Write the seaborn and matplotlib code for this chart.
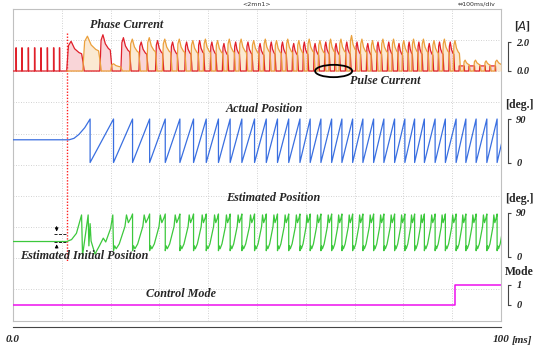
import numpy as np
import pandas as pd
import matplotlib
matplotlib.use("Agg")
import matplotlib.pyplot as plt
import seaborn as sns
from matplotlib.patches import Ellipse

# ─────────────────────────────────────────────
# DATA (read off the scope capture, time in ms)
# ─────────────────────────────────────────────
# short current spikes before start-up (red phase)
spike_t = [0.6, 1.8, 3.1, 4.4, 5.7, 7.0, 8.3, 9.5]
spike_amp = 1.6

# phase current pulses: switch-on times and peak current [A]
red_on = [11.0, 17.8, 22.1, 25.8, 29.2, 32.3, 35.2, 37.9, 40.4, 42.9,
          45.3, 47.8, 50.3, 52.6, 54.9, 57.2, 59.4, 61.6, 63.8, 65.9,
          68.1, 70.2, 72.4, 74.5, 76.7, 78.8, 80.9, 82.9, 85.0, 87.1,
          89.3, 91.4, 93.4, 95.6, 97.7]
red_pk = [2.05, 2.5, 2.3, 2.0, 2.1, 2.0, 2.0, 2.1, 2.0, 1.9,
          2.0, 2.0, 1.9, 2.0, 2.0, 1.9, 2.0, 1.9, 2.0, 1.9,
          2.0, 2.0, 1.9, 2.0, 2.0, 1.9, 2.0, 2.0, 1.9, 2.0,
          2.0, 0.35, 0.35, 0.35, 0.35]
orange_on = [14.3, 20.0, 23.9, 27.4, 30.6, 33.6, 36.4, 39.0, 41.5, 43.9,
             46.3, 48.9, 51.3, 53.6, 55.9, 58.2, 60.3, 62.5, 64.7, 66.8,
             69.0, 71.1, 73.3, 75.4, 77.6, 79.7, 81.7, 83.7, 85.9, 88.0,
             90.2, 92.3, 94.4, 96.6, 98.7]
orange_pk = [2.4, 0.5, 2.2, 2.3, 2.2, 2.2, 2.1, 2.2, 2.1, 2.2,
             2.2, 2.1, 2.2, 2.1, 2.2, 2.1, 2.2, 2.1, 2.2, 2.2,
             2.45, 2.2, 2.1, 2.2, 2.2, 2.1, 2.2, 2.2, 2.1, 2.2,
             2.1, 0.75, 0.75, 0.7, 0.75]

# pulse outline (fraction of pulse length, fraction of peak)
pulse_shape_t = [0.0, 0.1, 0.25, 0.45, 0.7, 0.85, 0.93, 1.0]
pulse_shape_a = [0.0, 0.85, 1.0, 0.75, 0.62, 0.58, 0.3, 0.0]
rect_shape_t = [0.0, 0.03, 0.9, 0.93]
rect_shape_a = [0.0, 1.0, 1.0, 0.0]

# actual position: start-up ramp, then 90 -> 0 wraps
pos_start_t = [0.0, 11.5, 12.5, 13.5, 14.7]
pos_start_v = [47, 47, 50, 58, 72]
wrap_t = [15.8, 20.6, 24.5, 28.0, 31.2, 34.2, 37.0, 39.6, 42.1, 44.5,
          46.9, 49.5, 51.9, 54.2, 56.5, 58.8, 60.9, 63.1, 65.3, 67.4,
          69.6, 71.7, 73.9, 76.0, 78.2, 80.3, 82.3, 84.3, 86.5, 88.6,
          90.8, 92.8, 94.9, 97.1, 99.2, 101.3]

# estimated position: start-up part, then one cycle outline per wrap
est_start_t = [0.0, 11.0, 12.0, 13.0, 14.05, 14.25, 15.4, 15.55, 15.8, 16.0,
               16.8, 17.7, 18.5, 19.0, 20.0, 20.45]
est_start_v = [31, 31, 35, 48, 86, 2, 86, 22, 68, 32,
               5, 22, 38, 30, 58, 86]
est_cycle_p = [0.0, 0.06, 0.14, 0.3, 0.5, 0.6, 0.68, 0.78, 0.92, 1.0]
est_cycle_v = [12, 22, 16, 26, 50, 62, 86, 70, 80, 88]

# control mode
mode_t = [0.0, 90.5, 90.5, 100.0]
mode_v = [0, 0, 1, 1]

start_t = 11.0

# ─────────────────────────────────────────────
# BUILD TRACES
# ─────────────────────────────────────────────
def pulse_train(on, pk, other_on, t_first):
    xs, ys = [t_first], [0.0]
    for s, a in zip(on, pk):
        nxt = [o for o in other_on if o > s]
        e = nxt[0] + 0.3 if nxt else 100.5
        st, sa = (rect_shape_t, rect_shape_a) if a < 0.5 and s > 90 else (pulse_shape_t, pulse_shape_a)
        for f, g in zip(st, sa):
            xs.append(s + f * (e - s))
            ys.append(g * a)
    return xs, ys

red_x, red_y = [0.0], [0.0]
for t in spike_t:
    red_x += [t, t, t + 0.08, t + 0.1]
    red_y += [0.0, spike_amp, spike_amp, 0.0]
rx, ry = pulse_train(red_on, red_pk, orange_on, start_t)
red_x += rx
red_y += ry
org_x, org_y = pulse_train(orange_on, orange_pk, red_on, start_t)

pos_x, pos_y = list(pos_start_t), list(pos_start_v)
for w in wrap_t:
    pos_x += [w, w]
    pos_y += [90, 0]

est_x, est_y = list(est_start_t), list(est_start_v)
for a, b in zip(wrap_t[1:-1], wrap_t[2:]):
    for p, v in zip(est_cycle_p, est_cycle_v):
        est_x.append(a + p * (b - a))
        est_y.append(v)

# ─────────────────────────────────────────────
# FIGURE
# ─────────────────────────────────────────────
sns.set_theme(style="white")
plt.rcParams["font.family"] = ["Liberation Serif", "DejaVu Serif"]

W, H = 534, 347
FL, FR, FT, FB = 13, 501, 9, 320.5   # frame in pixels
fig = plt.figure(figsize=(W / 100, H / 100), dpi=100)
rect = [FL / W, 1 - FB / H, (FR - FL) / W, (FB - FT) / H]


def frac(py):
    return (FB - py) / (FB - FT)


def fit(ax, v0, py0, v1, py1):
    f0, f1 = frac(py0), frac(py1)
    s = (v1 - v0) / (f1 - f0)
    ax.set_ylim(v0 - f0 * s, v0 + (1 - f0) * s)


lab_font = dict(family="Liberation Serif", weight="bold", style="italic")

# background frame + dotted grid
ax = fig.add_axes(rect)
ax.set_xlim(0, 100)
ax.set_ylim(0, 10)
ax.set_xticks([])
ax.set_yticks([])
ax.set_xticks(np.arange(10, 100, 10), minor=True)
ax.set_yticks(np.arange(1, 10), minor=True)
ax.tick_params(which="both", length=0, labelbottom=False, labelleft=False)
ax.grid(which="minor", color="#c4c4c4", linestyle=(0, (1, 2)), linewidth=0.6)
for sp in ax.spines.values():
    sp.set_color("#c0c0c0")
    sp.set_linewidth(0.8)
ax.axvline(start_t, ymin=frac(33), ymax=frac(262), color="#ff2020",
           linestyle=(0, (1, 1.2)), linewidth=1.0)


def overlay(name):
    a = fig.add_axes(rect, label=name)
    a.set_facecolor("none")
    a.set_xlim(0, 100)
    for k in ["left", "top", "bottom"]:
        a.spines[k].set_visible(False)
    a.spines["right"].set_position(("outward", 5))
    a.spines["right"].set_color("#444444")
    a.spines["right"].set_linewidth(0.8)
    a.yaxis.tick_right()
    a.tick_params(axis="y", direction="out", length=2.5, width=0.8,
                  color="#444444", pad=3.5, labelsize=7.5)
    a.set_xticks([])
    a.grid(False)
    return a


def bracket(a, lo, hi, labels):
    a.spines["right"].set_bounds(lo, hi)
    a.set_yticks([lo, hi])
    a.set_yticklabels(labels, **lab_font)


# phase current
ax_i = overlay("current")
ax_i.fill_between(red_x, red_y, 0, color="#f08890", alpha=0.35, lw=0)
ax_i.fill_between(org_x, org_y, 0, color="#f5c890", alpha=0.4, lw=0)
sns.lineplot(x=red_x, y=red_y, ax=ax_i, color="#e0202a", linewidth=0.9,
             estimator=None, sort=False)
sns.lineplot(x=org_x, y=org_y, ax=ax_i, color="#eba03c", linewidth=0.9,
             estimator=None, sort=False)
fit(ax_i, 0.0, 71, 2.0, 42)
bracket(ax_i, 0.0, 2.0, ["0.0", "2.0"])
ax_i.add_patch(Ellipse((65.7, 0.0), 7.6, 0.85, fill=False, ec="black",
                       lw=1.3, zorder=5, clip_on=False))

# actual position
ax_p = overlay("actual")
sns.lineplot(x=pos_x, y=pos_y, ax=ax_p, color="#3a6fe0", linewidth=0.9,
             estimator=None, sort=False)
fit(ax_p, 0, 162.5, 90, 119)
bracket(ax_p, 0, 90, ["0", "90"])

# estimated position
ax_e = overlay("estimated")
sns.lineplot(x=est_x, y=est_y, ax=ax_e, color="#3cc83c", linewidth=0.9,
             estimator=None, sort=False)
fit(ax_e, 0, 256.5, 90, 213)
bracket(ax_e, 0, 90, ["0", "90"])
ax_e.plot([8.3, 11.0], [46, 46], color="black", ls="--", lw=0.6)
ax_e.plot([8.3, 11.0], [31, 31], color="black", ls="--", lw=0.6)
ax_e.annotate("", xy=(8.95, 46), xytext=(8.95, 68),
              arrowprops=dict(arrowstyle="-|>", color="black", lw=0.6, mutation_scale=5))
ax_e.annotate("", xy=(8.95, 31), xytext=(8.95, 12),
              arrowprops=dict(arrowstyle="-|>", color="black", lw=0.6, mutation_scale=5))

# control mode (also carries the time bracket)
ax_m = overlay("mode")
sns.lineplot(x=mode_t, y=mode_v, ax=ax_m, color="#ee10ee", linewidth=1.1,
             estimator=None, sort=False)
fit(ax_m, 0, 305, 1, 284.5)
bracket(ax_m, 0, 1, ["0", "1"])
ax_m.spines["bottom"].set_visible(True)
ax_m.spines["bottom"].set_position(("outward", 4.7))
ax_m.spines["bottom"].set_color("#444444")
ax_m.spines["bottom"].set_linewidth(0.8)
ax_m.set_xticks([0, 100])
ax_m.set_xticklabels(["0.0", "100"], **lab_font)
ax_m.tick_params(axis="x", direction="out", length=3, width=0.8,
                 color="#444444", pad=3, labelsize=8)


def ftext(x, y, s, **kw):
    fig.text(x / W, 1 - y / H, s, ha=kw.pop("ha", "center"), va="center", **kw)


ftext(127, 25, "Phase Current", fontsize=8.7, **lab_font)
ftext(385, 81, "Pulse Current", fontsize=8.7, **lab_font)
ftext(264, 109, "Actual Position", fontsize=8.7, **lab_font)
ftext(273, 198, "Estimated Position", fontsize=8.7, **lab_font)
ftext(84, 256, "Estimated Initial Position", fontsize=8.7, **lab_font)
ftext(181, 294, "Control Mode", fontsize=8.7, **lab_font)

unit_font = dict(family="Liberation Serif", weight="bold")
ftext(523, 26, "[$\\mathit{A}$]", fontsize=8.5, **unit_font)
ftext(519, 105, "[deg.]", fontsize=8.5, **unit_font)
ftext(519, 199, "[deg.]", fontsize=8.5, **unit_font)
ftext(519, 272, "Mode", fontsize=8.5, **unit_font)
ftext(512, 340.5, "[ms]", fontsize=8, ha="left", **lab_font)

ftext(257, 4, "<2mn1>", fontsize=4.5, color="#333333", family="DejaVu Sans")
ftext(477, 4, "\u21d4100ms/div", fontsize=4.5, color="#333333", family="DejaVu Sans")

fig.savefig("out.png", dpi=100)
